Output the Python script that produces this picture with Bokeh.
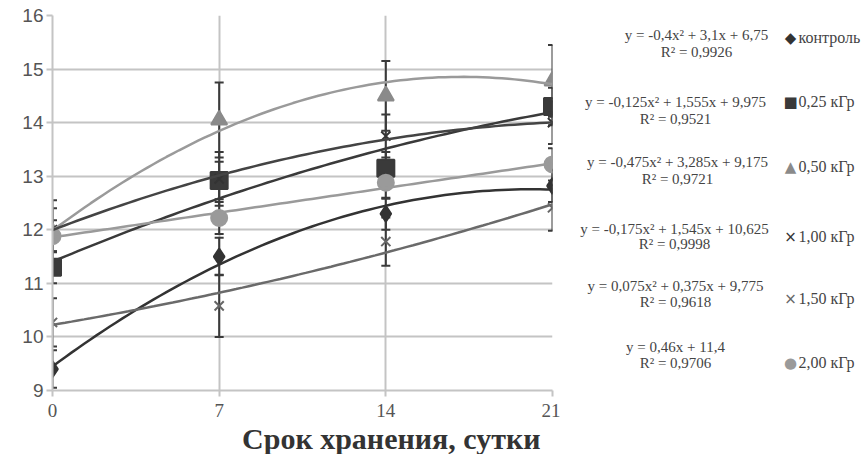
import numpy as np
from bokeh.plotting import figure
from bokeh.layouts import row
from bokeh.models import Label, Whisker, TeeHead, ColumnDataSource, FixedTicker, Range1d, Title
from bokeh.embed import file_html
from bokeh.resources import INLINE

# ---------------- data ----------------
days = [0, 7, 14, 21]
series_names = ["контроль", "0,25 кГр", "0,50 кГр", "1,00 кГр", "1,50 кГр", "2,00 кГр"]
control = [9.4, 11.5, 12.3, 12.82]
dose_025 = [11.3, 12.92, 13.15, 14.3]
dose_050 = [11.95, 14.05, 14.5, 14.78]
dose_100 = [12.0, 12.95, 13.75, 14.0]
dose_150 = [10.27, 10.58, 11.78, 12.41]
dose_200 = [11.88, 12.22, 12.88, 13.22]
err_control = [0.35, 0.35, 0.3, 0.3]
err_025 = [0.3, 0.35, 0.3, 0.35]
err_050 = [0.6, 0.7, 0.65, 0.67]
err_100 = [0.4, 0.5, 0.4, 0.4]
err_150 = [0.45, 0.58, 0.45, 0.43]
err_200 = [0.3, 0.3, 0.3, 0.3]
# trend-line coefficients (a*x^2 + b*x + c, x = point index 1..4)
coef_a = [-0.4, -0.125, -0.475, -0.175, 0.075, 0.0]
coef_b = [3.1, 1.555, 3.285, 1.545, 0.375, 0.46]
coef_c = [6.75, 9.975, 9.175, 10.625, 9.775, 11.4]
equations = ["y = -0,4x² + 3,1x + 6,75", "y = -0,125x² + 1,555x + 9,975",
             "y = -0,475x² + 3,285x + 9,175", "y = -0,175x² + 1,545x + 10,625",
             "y = 0,075x² + 0,375x + 9,775", "y = 0,46x + 11,4"]
r_squared = ["R² = 0,9926", "R² = 0,9521", "R² = 0,9721", "R² = 0,9998", "R² = 0,9618", "R² = 0,9706"]
y_ticks = [9, 10, 11, 12, 13, 14, 15, 16]
x_title = "Срок хранения, сутки"

values = [control, dose_025, dose_050, dose_100, dose_150, dose_200]
errors = [err_control, err_025, err_050, err_100, err_150, err_200]

# ---------------- styles ----------------
markers = ["diamond", "square", "triangle", "x", "x", "circle"]
marker_sizes = [16, 17, 16, 13, 13, 16]
marker_colors = ["#333333", "#3a3a3a", "#8a8a8a", "#333333", "#666666", "#9a9a9a"]
line_colors = ["#333333", "#3a3a3a", "#9a9a9a", "#444444", "#6a6a6a", "#9a9a9a"]
legend_symbols = ["◆", "■", "▲", "×", "×", "●"]

H = 452
MAIN_W = 560
FL, FT, FW, FH = 52, 15, 500, 375
p = figure(frame_width=FW, frame_height=FH, min_border_left=FL, min_border_top=FT,
           min_border_right=MAIN_W - FL - FW, min_border_bottom=H - FT - FH,
           x_range=Range1d(0, 21), y_range=Range1d(9, 16),
           output_backend="svg", toolbar_location=None)
p.outline_line_color = None
p.background_fill_color = "white"

grid_col = "#c4c4c4"
p.xgrid.ticker = FixedTicker(ticks=days)
p.ygrid.ticker = FixedTicker(ticks=y_ticks)
for g in (p.xgrid, p.ygrid):
    g.grid_line_color = grid_col
    g.grid_line_width = 2

p.xaxis.ticker = FixedTicker(ticks=days)
p.yaxis.ticker = FixedTicker(ticks=y_ticks)
for ax in (p.xaxis, p.yaxis):
    ax.axis_line_color = grid_col
    ax.axis_line_width = 2
    ax.major_tick_line_color = grid_col
    ax.major_tick_line_width = 2
    ax.major_tick_in = 0
    ax.major_tick_out = 6
    ax.minor_tick_line_color = None
    ax.major_label_text_color = "#555555"
    ax.major_label_text_font_size = "19px"
p.xaxis.major_label_text_font = "Liberation Serif"
p.yaxis.major_label_text_font = "Liberation Sans"
p.xaxis.major_label_standoff = 7
p.yaxis.major_label_standoff = 3

xs = np.linspace(0, 21, 80)
idx = xs / 7 + 1
for i in range(6):
    src = ColumnDataSource(dict(x=days, y=values[i],
                                lo=[v - e for v, e in zip(values[i], errors[i])],
                                hi=[v + e for v, e in zip(values[i], errors[i])]))
    w = Whisker(base="x", lower="lo", upper="hi", source=src, dimension="height",
                line_color="#3a3a3a", line_width=2,
                upper_head=TeeHead(size=9, line_color="#3a3a3a", line_width=2),
                lower_head=TeeHead(size=9, line_color="#3a3a3a", line_width=2))
    p.add_layout(w)

for i in range(6):
    src = ColumnDataSource(dict(x=days, y=values[i]))
    p.scatter("x", "y", source=src, marker=markers[i], size=marker_sizes[i],
              fill_color=marker_colors[i], line_color=marker_colors[i], line_width=2)

for i in range(6):
    ys = coef_a[i] * idx ** 2 + coef_b[i] * idx + coef_c[i]
    p.line(xs, ys, line_color=line_colors[i], line_width=2.5)

p.add_layout(Title(text=x_title, align="right", offset=12, standoff=0, text_font="Liberation Serif",
                   text_font_style="bold", text_font_size="30px", text_color="#333333"), "below")

# ---------------- legend panel with equations ----------------
LW = 865 - MAIN_W
q = figure(frame_width=LW, frame_height=H, x_range=Range1d(0, LW), y_range=Range1d(H, 0),
           x_axis_type=None, y_axis_type=None, min_border=0, title=None,
           output_backend="svg", toolbar_location=None)
q.outline_line_color = None
q.grid.visible = False

DY = -15
eq_cx = [696, 675, 677, 674, 675, 675]
eq_y = [34, 101, 161, 228, 285, 346]
r2_y = [51, 118, 178, 243, 301, 362]
lab_y = [37, 101, 166, 236, 298, 362]
for i in range(6):
    q.add_layout(Label(x=eq_cx[i] - MAIN_W, y=eq_y[i] + DY, text=equations[i], text_align="center",
                       text_baseline="middle", text_font="Liberation Serif",
                       text_font_size="15px", text_color="#444444"))
    q.add_layout(Label(x=eq_cx[i] - MAIN_W, y=r2_y[i] + DY, text=r_squared[i], text_align="center",
                       text_baseline="middle", text_font="Liberation Serif",
                       text_font_size="15px", text_color="#444444"))
    q.add_layout(Label(x=790 - MAIN_W, y=lab_y[i] + DY, text=legend_symbols[i], text_align="center",
                       text_baseline="middle", text_font="DejaVu Sans",
                       text_font_size="15px", text_color=marker_colors[i]))
    q.add_layout(Label(x=798 - MAIN_W, y=lab_y[i] + DY, text=series_names[i], text_align="left",
                       text_baseline="middle", text_font="Liberation Serif",
                       text_font_size="16px", text_color="#444444"))

layout = row(p, q)
open("out.html", "w").write(file_html(layout, INLINE))
